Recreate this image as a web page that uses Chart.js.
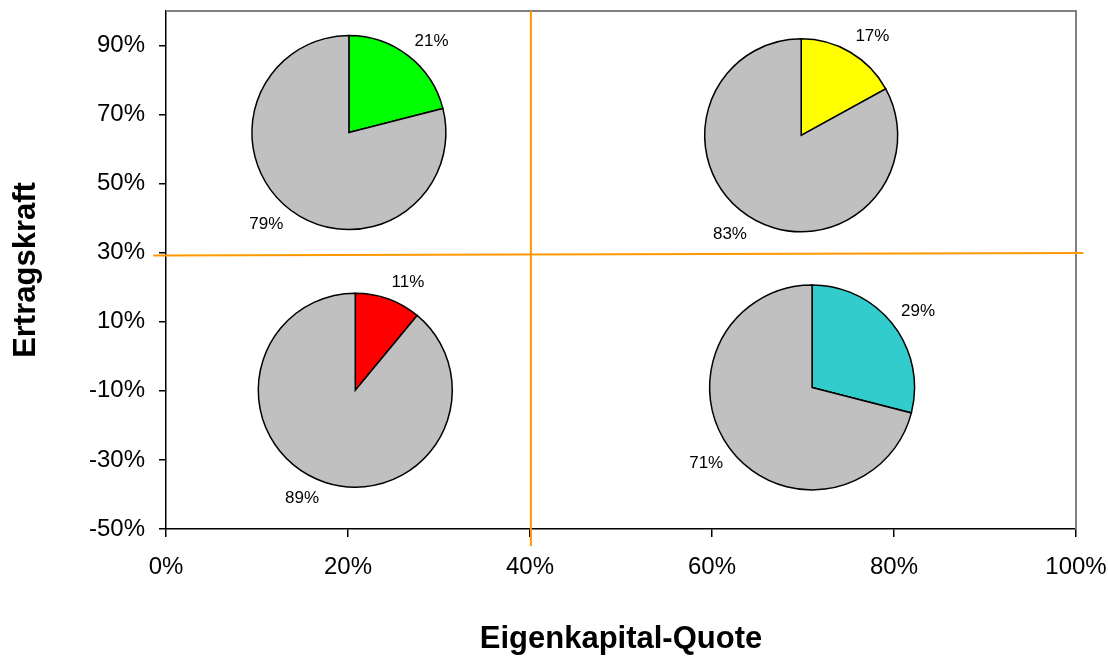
<!DOCTYPE html>
<html>
<head>
<meta charset="utf-8">
<script src="https://cdn.jsdelivr.net/npm/chart.js@4.4.1/dist/chart.umd.min.js"></script>
<style>
  html, body { margin: 0; padding: 0; background: #fff; }
  #wrap { width: 1108px; height: 657px; position: relative; }
</style>
</head>
<body>
<div id="wrap"><canvas id="myChart"></canvas></div>
<script>
// -------------  DATA  -------------
const pieX      = [20.1, 69.8, 20.8, 71.0];   // Eigenkapital-Quote of each pie centre
const pieY      = [64.8, 64.0, -9.8, -9.0];   // Ertragskraft of each pie centre
const pieShare  = [21, 17, 11, 29];           // coloured slice, %
const restShare = [79, 83, 89, 71];           // grey slice, %
const xTicks = [0, 20, 40, 60, 80, 100];
const yTicks = [-50, -30, -10, 10, 30, 50, 70, 90];
const vLineX = [40.1, 40.1];
const vLineY = [100, -55];
const hLineX = [-1.4, 100.8];
const hLineY = [29.2, 29.9];
//============================================================================

const FONT = '"Liberation Sans", Arial, sans-serif';
const ORANGE = '#FF9900';

const pieStyle = {
    colors: ['#00FF00', '#FFFF00', '#FF0000', '#33CCCC'],
    rest: '#C0C0C0',
    radius: [97, 96.5, 97, 102.5],
    gap: 10,
    font: '17px ' + FONT
};

// grey frame on top and right of the plot area
const framePlugin = {
    id: 'frame',
    beforeDatasetsDraw(chart) {
        const { ctx, chartArea: a } = chart;
        ctx.save();
        ctx.strokeStyle = '#808080';
        ctx.lineWidth = 2;
        ctx.beginPath();
        ctx.moveTo(a.left, a.top);
        ctx.lineTo(a.right, a.top);
        ctx.lineTo(a.right, a.bottom);
        ctx.stroke();
        ctx.restore();
    }
};

// a pie at every point of dataset 0
const piePlugin = {
    id: 'pies',
    afterDatasetsDraw(chart) {
        const ctx = chart.ctx;
        const meta = chart.getDatasetMeta(0);
        ctx.save();
        meta.data.forEach((pt, i) => {
            const cx = pt.x, cy = pt.y, r = pieStyle.radius[i];
            const total = pieShare[i] + restShare[i];
            const start = -Math.PI / 2;
            const mid = start + 2 * Math.PI * pieShare[i] / total;
            const slices = [
                [start, mid, pieStyle.colors[i], pieShare[i]],
                [mid, start + 2 * Math.PI, pieStyle.rest, restShare[i]]
            ];
            slices.forEach(([a0, a1, col]) => {
                ctx.beginPath();
                ctx.moveTo(cx, cy);
                ctx.arc(cx, cy, r, a0, a1);
                ctx.closePath();
                ctx.fillStyle = col;
                ctx.fill();
                ctx.lineWidth = 1.5;
                ctx.strokeStyle = '#000';
                ctx.stroke();
            });

            ctx.font = pieStyle.font;
            ctx.fillStyle = '#000';
            ctx.textAlign = 'center';
            ctx.textBaseline = 'middle';
            slices.forEach(([a0, a1, , val]) => {
                const a = (a0 + a1) / 2;
                const dx = Math.cos(a), dy = Math.sin(a);
                const txt = val + '%';
                const w = ctx.measureText(txt).width, h = 14;
                const px = cx + dx * (r + pieStyle.gap) + Math.sign(dx) * w / 2;
                const py = cy + dy * (r + pieStyle.gap) + Math.sign(dy) * h / 2;
                ctx.fillText(txt, px, py);
            });
        });
        ctx.restore();
    }
};

function axisTicks(values) {
    return scale => { scale.ticks = values.map(v => ({ value: v })); };
}

const ctx = document.getElementById('myChart').getContext('2d');
const chart = new Chart(ctx, {
    type: 'scatter',
    data: {
        datasets: [
            {
                label: 'Quadranten',
                data: pieX.map((x, i) => ({ x: x, y: pieY[i] })),
                pointRadius: 0,
                pointHoverRadius: 0
            },
            {
                type: 'line',
                label: 'Grenze EK',
                data: vLineX.map((x, i) => ({ x: x, y: vLineY[i] })),
                borderColor: ORANGE,
                borderWidth: 2,
                pointRadius: 0,
                clip: false
            },
            {
                type: 'line',
                label: 'Grenze Ertrag',
                data: hLineX.map((x, i) => ({ x: x, y: hLineY[i] })),
                borderColor: ORANGE,
                borderWidth: 2,
                pointRadius: 0,
                clip: false
            }
        ]
    },
    plugins: [framePlugin, piePlugin],
    options: {
        responsive: true,
        maintainAspectRatio: false,
        animation: false,
        events: [],
        layout: { padding: { top: 11, right: 32, bottom: 0, left: 0 } },
        plugins: {
            legend: { display: false },
            tooltip: { enabled: false }
        },
        scales: {
            x: {
                type: 'linear',
                min: 0,
                max: 100,
                afterBuildTicks: axisTicks(xTicks),
                afterFit: s => { s.height = 128; s.paddingLeft = 0; s.paddingRight = 0; },
                ticks: {
                    callback: v => v + '%',
                    font: { size: 24, family: FONT },
                    color: '#000',
                    padding: 16,
                    maxRotation: 0,
                    autoSkip: false
                },
                grid: { drawOnChartArea: false, drawTicks: true, tickLength: 8, color: '#000', lineWidth: 1.5 },
                border: { display: true, color: '#000', width: 1.5 },
                title: {
                    display: true,
                    text: 'Eigenkapital-Quote',
                    color: '#000',
                    font: { size: 31, weight: 'bold', family: FONT, lineHeight: 1 },
                    padding: { top: 0, bottom: 2 }
                }
            },
            y: {
                type: 'linear',
                min: -50,
                max: 100,
                afterBuildTicks: axisTicks(yTicks),
                afterFit: s => { s.width = 166; s.paddingTop = 0; s.paddingBottom = 0; },
                ticks: {
                    callback: v => v + '%',
                    font: { size: 24, family: FONT },
                    color: '#000',
                    padding: 14,
                    autoSkip: false
                },
                grid: { drawOnChartArea: false, drawTicks: true, tickLength: 7, color: '#000', lineWidth: 1.5 },
                border: { display: true, color: '#000', width: 1.5 },
                title: {
                    display: true,
                    text: 'Ertragskraft',
                    color: '#000',
                    font: { size: 31, weight: 'bold', family: FONT, lineHeight: 1 },
                    padding: { top: 11, bottom: 0 }
                }
            }
        }
    }
});
</script>
</body>
</html>
